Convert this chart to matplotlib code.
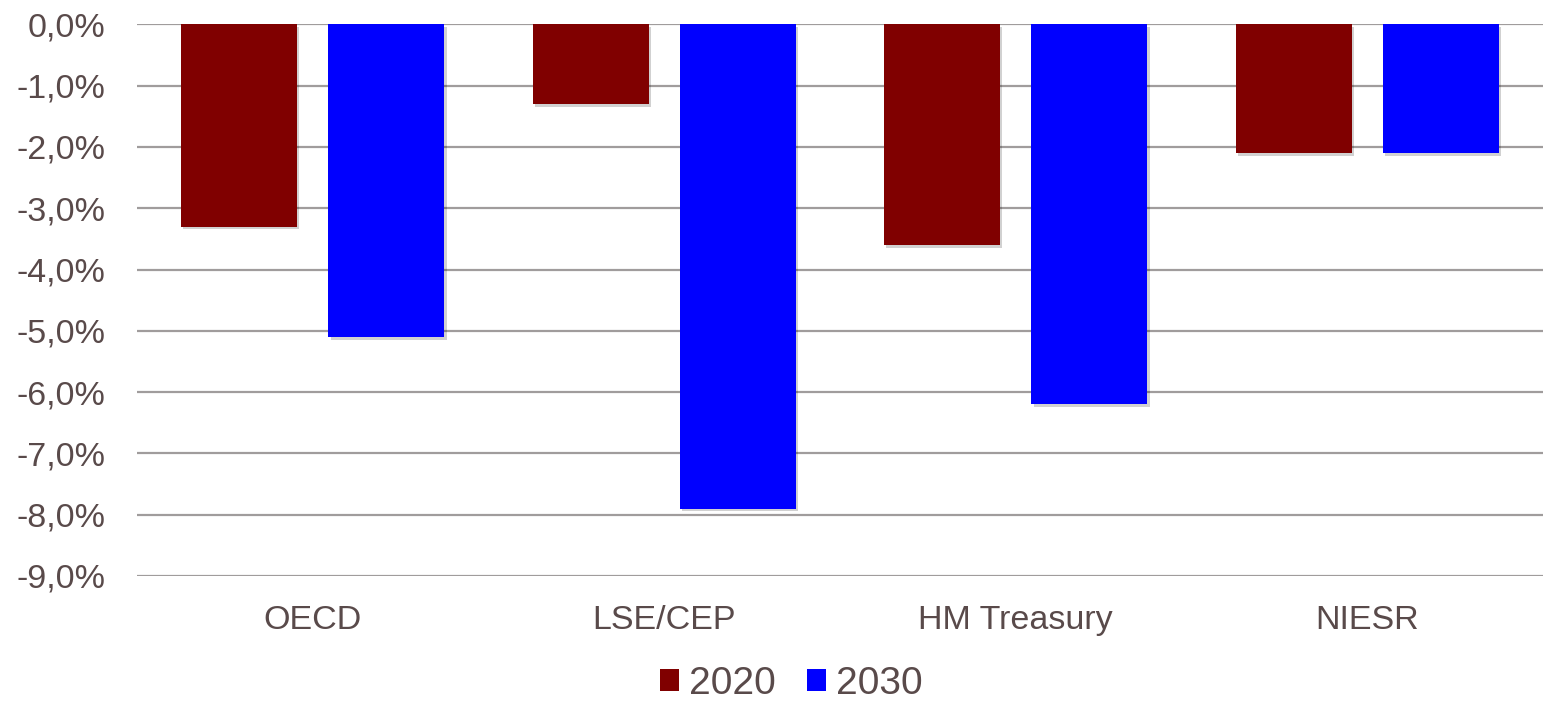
import matplotlib
matplotlib.use("Agg")
import matplotlib.pyplot as plt
import matplotlib.patheffects as pe
import numpy as np
from matplotlib.ticker import FuncFormatter
from matplotlib.patches import Patch

categories = ["OECD", "LSE/CEP", "HM Treasury", "NIESR"]
series_names = ["2020", "2030"]
values_2020 = [-3.3, -1.3, -3.6, -2.1]
values_2030 = [-5.1, -7.9, -6.2, -2.1]
colors = ["#800000", "#0000FF"]

text_color = "#594A4A"
plt.rcParams['font.family'] = ['Liberation Sans', 'DejaVu Sans']

fig = plt.figure(figsize=(15.44, 7.01), dpi=100)
ax = fig.add_axes([137/1544, 1-576/701, (1543-137)/1544, (576-24.3)/701])

x = np.arange(len(categories))
w = 0.33
off = 0.2096
shadow = [pe.SimplePatchShadow(offset=(1.5, -2), shadow_rgbFace='#000000', alpha=0.18), pe.Normal()]
for vals, c, o in [(values_2020, colors[0], -off), (values_2030, colors[1], off)]:
    bars = ax.bar(x + o, vals, width=w, color=c, zorder=3)
    for b in bars:
        b.set_path_effects(shadow)

ax.set_xlim(-0.5, len(categories) - 0.5)
ax.set_ylim(-9, 0)
ax.set_yticks(np.arange(-9, 0.5, 1))
ax.yaxis.set_major_formatter(FuncFormatter(lambda v, p: f"{v:.1f}%".replace(".", ",")))
ax.yaxis.grid(True, color="#A09C9C", linewidth=1.6, zorder=0)
ax.set_axisbelow(True)
for s in ax.spines.values():
    s.set_visible(False)
ax.set_xticks(x)
ax.set_xticklabels(categories)
ax.tick_params(axis='y', length=0, pad=23, labelsize=24.5, labelcolor=text_color)
ax.tick_params(axis='x', length=0, pad=21, labelsize=24.5, labelcolor=text_color)

handles = [Patch(facecolor=colors[0]), Patch(facecolor=colors[1])]
fig.legend(handles, series_names, loc='center', bbox_to_anchor=(791/1544, 1-684/701),
           ncol=2, frameon=False, fontsize=28, labelcolor=text_color,
           handlelength=0.5, handleheight=0.5, handletextpad=0.25, columnspacing=0.8,
           borderpad=0, borderaxespad=0)

fig.savefig("out.png", dpi=100)
